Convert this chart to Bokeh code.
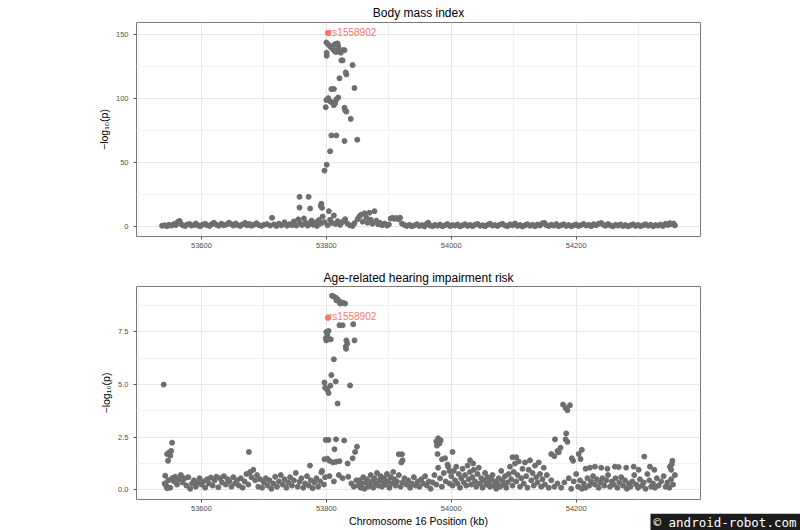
from bokeh.plotting import figure
from bokeh.layouts import column
from bokeh.models import (ColumnDataSource, Range1d, FixedTicker,
                          PrintfTickFormatter)
from bokeh.core.properties import value
from bokeh.embed import file_html
from bokeh.resources import INLINE

# ---------------- data ----------------
x_ticks = [53600, 53800, 54000, 54200]
x_minor = [53500, 53700, 53900, 54100, 54300]
bmi_yticks = [0, 50, 100, 150]
bmi_yminor = [25, 75, 125]
hear_yticks = [0, 2.5, 5.0, 7.5]
hear_yminor = [1.25, 3.75, 6.25, 8.75]

x_label = ["Chromosome 16 Position (kb)"]
watermark = ["© android-robot.com"]

lead_snp = ["rs1558902"]
lead_kb = [53802.6]
bmi_lead_logp = [151.3]
hear_lead_logp = [8.18]

# Body mass index: strong association peak (kb, -log10 p)
bmi_peak = [
    (53800, 144), (53800.5, 136), (53800.5, 133.6), (53803, 142.5), (53806, 141),
    (53809, 139.5), (53812, 138), (53815, 136.5), (53818, 138.5), (53820, 137),
    (53823, 136), (53826, 138), (53829, 138), (53816, 143), (53813, 142.5),
    (53819, 141), (53818, 143.2), (53824, 130), (53826, 130), (53842, 126.3),
    (53831, 120.6), (53832, 119), (53821, 116), (53808, 107.6), (53812, 107.6),
    (53845, 108.4), (53799, 93.4), (53800, 99), (53803, 100.5), (53806, 98),
    (53809, 97), (53812, 95), (53816, 99.5), (53819, 101), (53814, 96.5),
    (53829, 93), (53830, 91), (53832, 90), (53839, 84.3), (53808, 71.4),
    (53816, 71.4), (53829, 67), (53849.5, 68), (53806, 59), (53800.5, 48.5),
    (53797, 43.9), (53757, 23.4), (53771.6, 23.4), (53757, 15), (53774, 14.3),
    (53792, 18), (53791, 16.3), (53793, 14.8), (53804, 12.2), (53877, 12.2),
]
# Body mass index: background SNPs
bmi_bg = [
    (53537, 0.8), (53541, 1.2), (53545, 0.5), (53548, 1.6), (53552, 0.9), (53556, 2.1),
    (53559, 1.3), (53562, 3.8), (53565, 4.6), (53567, 2.4), (53570, 1.1), (53574, 0.6),
    (53577, 1.8), (53581, 2.2), (53584, 0.9), (53588, 1.4), (53591, 2.6), (53595, 1.0),
    (53598, 0.4), (53602, 1.7), (53606, 2.3), (53609, 1.2), (53613, 0.7), (53616, 1.9),
    (53620, 3.1), (53624, 1.5), (53628, 0.8), (53632, 2.4), (53636, 1.1), (53640, 1.8),
    (53644, 3.2), (53648, 2.0), (53651, 0.9), (53655, 2.6), (53658, 1.4), (53662, 0.6),
    (53666, 1.9), (53670, 3.0), (53673, 1.2), (53677, 2.2), (53680, 0.8), (53684, 1.6),
    (53688, 2.8), (53692, 1.3), (53696, 0.7), (53700, 1.5), (53705, 2.1), (53710, 0.9),
    (53713, 7.0), (53716, 1.8), (53720, 0.6), (53724, 2.4), (53728, 1.1), (53733, 3.5),
    (53737, 0.8), (53741, 2.0), (53745, 1.3), (53748, 4.2), (53752, 0.9), (53755, 5.8),
    (53758, 2.7), (53761, 1.4), (53764, 6.5), (53767, 3.1), (53770, 0.9), (53773, 2.2),
    (53776, 4.8), (53779, 1.6), (53782, 3.4), (53785, 0.7), (53788, 5.2), (53791, 2.5),
    (53794, 8.0), (53797, 3.6), (53802, 1.2), (53806, 5.5), (53809, 3.0), (53812, 8.8),
    (53815, 2.2), (53818, 4.4), (53822, 1.5), (53826, 3.8), (53830, 5.9), (53834, 2.4),
    (53838, 1.0), (53842, 0.6), (53845, 2.8), (53850, 6.0), (53853, 8.2), (53856, 9.5),
    (53858, 4.0), (53861, 10.5), (53864, 7.1), (53866, 3.2), (53869, 11.0), (53871, 5.5),
    (53874, 2.4), (53880, 4.8), (53883, 1.9), (53886, 3.0), (53889, 1.2), (53893, 2.5),
    (53897, 0.9), (53900, 1.8), (53903, 6.4), (53906, 7.0), (53909, 6.2), (53912, 6.8),
    (53915, 5.9), (53918, 7.1), (53921, 2.5), (53925, 1.4), (53929, 0.6), (53933, 1.5),
    (53937, 0.4), (53941, 1.1), (53945, 2.0), (53949, 0.7), (53953, 1.3), (53957, 0.3),
    (53960, 1.9), (53963, 3.2), (53966, 1.0), (53970, 0.5), (53974, 1.4), (53978, 0.8),
    (53982, 1.7), (53986, 0.4), (53990, 1.2), (53994, 2.1), (53998, 0.6), (54002, 1.3),
    (54006, 0.9), (54010, 1.8), (54014, 0.3), (54018, 1.1), (54022, 2.0), (54026, 0.7),
    (54030, 1.4), (54034, 0.5), (54038, 1.6), (54042, 2.2), (54046, 0.8), (54050, 1.2),
    (54054, 0.4), (54058, 1.5), (54062, 2.4), (54066, 0.9), (54070, 1.3), (54074, 0.6),
    (54078, 1.7), (54082, 2.3), (54086, 1.0), (54090, 0.5), (54094, 1.9), (54098, 1.1),
    (54102, 2.6), (54106, 0.7), (54110, 1.4), (54114, 0.3), (54118, 1.2), (54122, 2.0),
    (54126, 0.8), (54130, 1.5), (54134, 0.4), (54138, 1.8), (54142, 1.0), (54146, 2.7),
    (54149, 3.0), (54152, 1.3), (54156, 0.6), (54160, 1.6), (54164, 0.9), (54168, 2.1),
    (54172, 0.5), (54176, 1.2), (54180, 1.9), (54184, 0.7), (54188, 1.4), (54192, 0.4),
    (54196, 1.1), (54200, 1.8), (54204, 0.6), (54208, 1.3), (54212, 2.2), (54216, 0.9),
    (54220, 1.5), (54224, 0.5), (54228, 2.0), (54232, 1.2), (54236, 2.4), (54240, 2.9),
    (54243, 1.6), (54247, 0.8), (54251, 2.1), (54255, 1.0), (54259, 0.4), (54263, 1.5),
    (54267, 0.9), (54271, 1.8), (54275, 0.6), (54279, 1.3), (54283, 0.3), (54287, 1.1),
    (54291, 1.9), (54295, 0.7), (54299, 1.4), (54303, 0.5), (54307, 1.2), (54311, 2.0),
    (54315, 0.8), (54319, 1.6), (54323, 0.4), (54327, 1.3), (54331, 0.9), (54335, 1.7),
    (54339, 0.6), (54343, 2.3), (54347, 1.4), (54350, 2.8), (54353, 1.9), (54356, 2.5),
    (54358, 1.1),
]

# Age-related hearing impairment: peak and elevated SNPs
hear_peak = [
    (53809, 9.22), (53812, 9.18), (53815, 9.13), (53818, 9.05), (53821, 8.95),
    (53824, 8.9), (53827, 8.88), (53830, 8.85), (53816, 9.0), (53822, 8.85),
    (53800, 7.5), (53801.5, 7.35), (53803.5, 7.55), (53799, 7.2), (53800, 7.1),
    (53807, 7.15), (53821, 7.82), (53826, 7.82), (53843, 7.87), (53832, 7.1),
    (53833.5, 6.95), (53831, 6.8), (53831.5, 6.7), (53845, 7.1), (53812, 6.2),
    (53797, 5.1), (53798, 4.85), (53801.5, 4.75), (53803.5, 4.6), (53806.5, 4.95),
    (53808, 5.45), (53815, 5.15), (53838, 4.96), (53818, 4.1), (53539.5, 5.0),
    (53799, 2.37), (53803.5, 2.37), (53815.5, 2.4), (53828.5, 2.34), (53813, 1.93),
    (53797, 1.45), (53801.5, 1.48), (53805, 1.38), (53810.5, 1.3), (53815.5, 1.33),
    (53821, 1.36), (53834, 1.25), (53842, 1.5), (53846, 1.8), (53849, 2.05),
    (53773.7, 1.15), (53792, 0.83), (53542, 0.67), (53543.5, 0.2), (53545, 0.08),
    (53545, 1.7), (53548, 1.77), (53550, 1.62), (53546.5, 1.38), (53551.5, 1.85),
    (53553, 2.24), (53676, 1.8), (53916, 1.69), (53921, 1.69), (53920, 1.3),
    (53922, 1.4), (53976, 2.3), (53979, 2.45), (53981, 2.2), (53977, 2.1),
    (53983, 2.35), (53978, 1.7), (53985, 1.45), (53990, 1.5), (54002, 1.8),
    (53995, 1.1), (53997, 0.9), (54030, 1.4), (54035, 1.25), (54098, 1.55),
    (54104, 1.55), (54179, 4.05), (54183, 3.89), (54186, 3.78), (54190, 4.02),
    (54184, 2.68), (54183, 2.4), (54186, 2.28), (54166, 2.4), (54160, 1.7),
    (54165, 1.6), (54170, 1.85), (54175, 2.0), (54172, 1.78), (54209, 1.9),
    (54207, 1.46), (54195, 1.38), (54193, 1.5), (54204, 1.7), (54309, 1.58),
    (54354, 1.38), (54353, 1.22), (54350, 1.1), (54352, 0.95),
]
# Age-related hearing impairment: background SNPs
hear_bg = [
    (53541, 0.30), (53544, 0.15), (53547, 0.45), (53550, 0.10), (53553, 0.55), (53556, 0.40),
    (53558, 0.62), (53561, 0.25), (53564, 0.50), (53567, 0.70), (53570, 0.35), (53573, 0.55),
    (53576, 0.20), (53579, 0.60), (53582, 0.05), (53585, 0.30), (53588, 0.45), (53591, 0.15),
    (53594, 0.35), (53597, 0.55), (53600, 0.25), (53603, 0.40), (53606, 0.10), (53609, 0.50),
    (53612, 0.30), (53615, 0.58), (53618, 0.20), (53621, 0.45), (53624, 0.62), (53627, 0.12),
    (53630, 0.55), (53633, 0.35), (53636, 0.65), (53639, 0.25), (53642, 0.50), (53645, 0.40),
    (53648, 0.15), (53651, 0.60), (53654, 0.30), (53657, 0.45), (53660, 0.20), (53663, 0.55),
    (53666, 0.10), (53669, 0.40), (53672, 0.75), (53675, 0.25), (53678, 0.85), (53680, 0.60),
    (53683, 0.95), (53686, 0.45), (53689, 0.70), (53691, 0.15), (53694, 0.50), (53697, 0.10),
    (53700, 0.35), (53703, 0.55), (53706, 0.20), (53709, 0.45), (53712, 0.05), (53715, 0.30),
    (53718, 0.62), (53721, 0.15), (53724, 0.40), (53727, 0.70), (53730, 0.25), (53733, 0.50),
    (53736, 0.10), (53739, 0.35), (53742, 0.60), (53745, 0.20), (53748, 0.45), (53751, 0.80),
    (53754, 0.15), (53757, 0.38), (53760, 0.55), (53763, 0.10), (53766, 0.30), (53769, 0.65),
    (53772, 0.20), (53775, 0.45), (53778, 0.08), (53781, 0.35), (53784, 0.55), (53787, 0.15),
    (53790, 0.40), (53793, 0.90), (53796, 0.25), (53798, 0.60),
    (53805, 0.65), (53812, 0.40), (53820, 0.70), (53826, 0.55), (53835, 0.62), (53840, 0.30),
    (53844, 0.15), (53848, 0.45),
    (53851, 0.20), (53853, 0.45), (53855, 0.10), (53857, 0.30), (53859, 0.60), (53861, 0.05),
    (53863, 0.35), (53865, 0.50), (53867, 0.15), (53869, 0.25), (53871, 0.70), (53873, 0.40),
    (53875, 0.10), (53877, 0.55), (53879, 0.30), (53881, 0.80), (53883, 0.20), (53885, 0.45),
    (53887, 0.65), (53889, 0.15), (53891, 0.35), (53893, 0.55), (53895, 0.25), (53897, 0.75),
    (53899, 0.40), (53901, 0.10), (53903, 0.60), (53905, 0.30), (53907, 0.85), (53909, 0.50),
    (53911, 0.20), (53913, 0.40), (53916, 0.70), (53919, 0.15), (53922, 0.35), (53925, 0.55),
    (53928, 0.25), (53931, 0.45), (53934, 0.10), (53937, 0.30), (53940, 0.60), (53943, 0.20),
    (53946, 0.40), (53949, 0.15), (53952, 0.50), (53955, 0.30), (53958, 0.65), (53961, 0.20),
    (53964, 0.40), (53967, 0.05), (53970, 0.35), (53973, 0.70), (53976, 0.25), (53979, 1.05),
    (53982, 0.55), (53985, 0.15), (53988, 0.80), (53991, 0.40), (53994, 1.20), (53997, 0.30),
    (54000, 0.65), (54002, 0.20), (54004, 0.90), (54006, 0.45), (54008, 1.10), (54010, 0.30),
    (54012, 0.75), (54014, 0.10), (54016, 0.55), (54018, 1.00), (54020, 0.35), (54022, 0.70),
    (54024, 0.20), (54026, 1.15), (54028, 0.50), (54030, 0.85), (54032, 0.25), (54034, 0.60),
    (54036, 0.95), (54038, 0.40), (54040, 0.15), (54042, 0.75), (54044, 1.05), (54046, 0.30),
    (54048, 0.55), (54050, 0.10), (54052, 0.45), (54054, 0.80), (54056, 0.25), (54058, 0.60),
    (54060, 0.35), (54062, 0.15), (54064, 0.50), (54066, 0.70), (54068, 0.20), (54070, 0.40),
    (54072, 0.05), (54074, 0.30), (54076, 0.55), (54078, 0.15), (54080, 0.90), (54082, 0.45),
    (54084, 0.25), (54086, 0.65), (54088, 0.10), (54090, 0.35), (54092, 0.75), (54094, 1.10),
    (54096, 0.50), (54098, 0.20), (54100, 0.85), (54102, 1.25), (54104, 0.40), (54106, 0.70),
    (54108, 1.35), (54110, 0.15), (54112, 0.55), (54114, 1.00), (54116, 0.30), (54118, 1.30),
    (54120, 0.65), (54122, 0.10), (54124, 0.95), (54126, 1.40), (54128, 0.45), (54130, 0.80),
    (54132, 0.20), (54134, 1.15), (54136, 0.60), (54138, 0.35), (54140, 1.30), (54142, 0.75),
    (54144, 0.15), (54146, 0.50), (54148, 1.05), (54150, 0.25), (54153, 0.70), (54156, 0.10),
    (54160, 0.45), (54165, 0.15), (54170, 0.30), (54176, 0.10), (54181, 0.35), (54188, 0.55),
    (54192, 0.05), (54196, 0.40),
    (54200, 0.75), (54203, 0.15), (54206, 0.45), (54209, 0.05), (54212, 0.30), (54215, 0.10),
    (54218, 0.55), (54221, 0.20), (54224, 0.40), (54227, 0.65), (54230, 0.25), (54233, 0.50),
    (54236, 0.10), (54239, 0.35), (54242, 0.55), (54245, 0.20), (54248, 0.45), (54251, 0.70),
    (54254, 0.15), (54257, 0.40), (54260, 0.25), (54263, 0.55), (54266, 0.10), (54269, 0.35),
    (54272, 0.60), (54275, 0.20), (54278, 0.45), (54281, 0.05), (54284, 0.30), (54287, 0.15),
    (54290, 0.40), (54293, 0.70), (54296, 0.25), (54299, 0.10), (54302, 0.50), (54305, 0.20),
    (54308, 0.35), (54311, 0.05), (54314, 0.75), (54317, 0.45), (54320, 0.15), (54323, 0.30),
    (54326, 0.10), (54329, 0.55), (54332, 0.20), (54336, 0.40), (54340, 0.65), (54343, 0.15),
    (54346, 0.35), (54349, 0.10), (54352, 0.50), (54355, 0.25), (54358, 0.70),
    (54215, 1.00), (54222, 1.05), (54230, 1.10), (54240, 1.05), (54250, 1.00), (54262, 1.10),
    (54268, 1.08), (54280, 1.05), (54292, 1.10), (54300, 0.95), (54318, 1.10), (54325, 0.95),
]

# ---------------- styling ----------------
FONT = "Liberation Sans"
GREY = "#6e6e6e"
RED = "#F8766D"
W = 800
LEFT, RIGHT = 136, 700


def make_panel(title, pts, lead_val, yticks, yminor, yrange, height,
               top, bottom, title_standoff, yfmt=None):
    p = figure(width=W, height=height, output_backend="svg", toolbar_location=None,
               x_range=Range1d(53496, 54399), y_range=Range1d(*yrange),
               min_border_left=LEFT, min_border_right=W - RIGHT,
               min_border_top=top, min_border_bottom=bottom,
               title=title)
    p.title.text_font = FONT
    p.title.text_font_size = "12px"
    p.title.text_font_style = "normal"
    p.title.text_color = "#000000"
    p.title.align = "center"
    p.title.standoff = title_standoff

    p.xaxis.ticker = FixedTicker(ticks=x_ticks, minor_ticks=x_minor)
    p.yaxis.ticker = FixedTicker(ticks=yticks, minor_ticks=yminor)
    if yfmt:
        p.yaxis.formatter = PrintfTickFormatter(format=yfmt)
    for ax in p.axis:
        ax.axis_line_color = None
        ax.major_tick_line_color = "#555555"
        ax.major_tick_out = 3
        ax.major_tick_in = 0
        ax.minor_tick_line_color = None
        ax.major_label_text_font = FONT
        ax.major_label_text_font_size = "7.5px"
        ax.major_label_text_color = "#4d4d4d"
        ax.major_label_standoff = 2
        ax.axis_label_text_font = FONT
        ax.axis_label_text_font_size = "10.5px"
        ax.axis_label_text_font_style = "normal"
        ax.axis_label_text_color = "#000000"
        ax.axis_label_standoff = 3
    p.yaxis.axis_label = "−log₁₀(p)"
    p.yaxis.major_label_standoff = 4
    p.xgrid.grid_line_color = "#e6e6e6"
    p.ygrid.grid_line_color = "#e6e6e6"
    p.xgrid.minor_grid_line_color = "#f1f1f1"
    p.ygrid.minor_grid_line_color = "#f1f1f1"
    p.outline_line_color = "#7a7a7a"
    p.outline_line_width = 1

    src = ColumnDataSource(dict(kb=[a for a, b in pts], logp=[b for a, b in pts]))
    p.scatter("kb", "logp", source=src, size=5, color=GREY)

    lead = ColumnDataSource(dict(kb=lead_kb, logp=lead_val, name=lead_snp))
    p.scatter("kb", "logp", source=lead, size=5.5, color=RED)
    p.text("kb", "logp", text="name", source=lead, x_offset=1, y_offset=-1,
           text_font=value(FONT), text_font_size="10px", text_color=RED,
           text_align="left", text_baseline="alphabetic")
    return p


p1 = make_panel("Body mass index", bmi_bg + bmi_peak, bmi_lead_logp,
                bmi_yticks, bmi_yminor, (-7.6, 159.6), 258, 20, 22, 6)
p2 = make_panel("Age-related hearing impairment risk", hear_bg + hear_peak,
                hear_lead_logp, hear_yticks, hear_yminor, (-0.46, 9.66), 255, 28, 13, 3,
                yfmt="%.1f")

# bottom strip: x-axis title and the source watermark
SH = 17
p3 = figure(width=W, height=SH, output_backend="svg", toolbar_location=None,
            x_range=Range1d(0, W), y_range=Range1d(0, SH),
            min_border_left=0, min_border_right=0, min_border_top=0,
            min_border_bottom=0)
p3.frame_align = False
p3.xaxis.visible = False
p3.yaxis.visible = False
p3.grid.visible = False
p3.outline_line_color = None
p3.text(x=[(LEFT + RIGHT) / 2], y=[SH / 2 + 1], text=x_label,
        text_font=value(FONT), text_font_size="10.5px", text_color="#000000",
        text_align="center", text_baseline="middle")
p3.quad(left=[650], right=[W], bottom=[0], top=[SH], fill_color="#1c1c1c",
        line_color=None)
p3.text(x=[653], y=[SH / 2], text=watermark,
        text_font=value("DejaVu Sans Mono"), text_font_size="12.5px",
        text_color="#ffffff", text_align="left", text_baseline="middle")

layout = column(p1, p2, p3, spacing=0)
open("out.html", "w").write(file_html(layout, INLINE))
